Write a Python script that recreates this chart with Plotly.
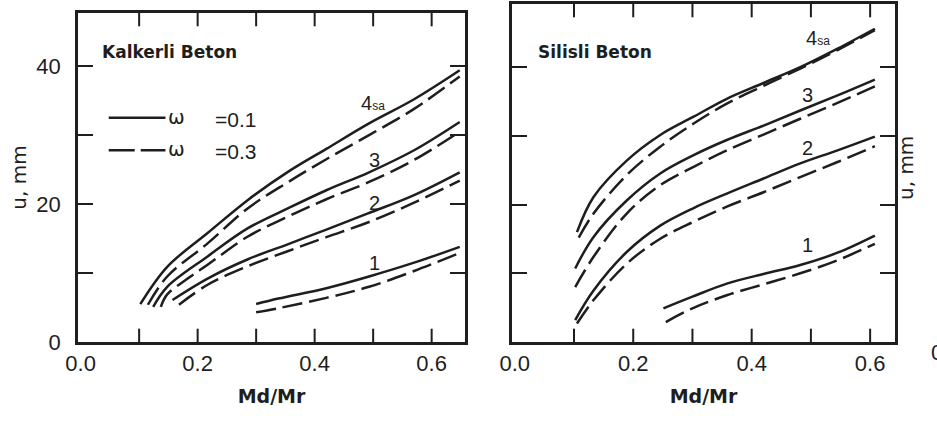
import plotly.graph_objects as go

# ---------------- data ----------------
# Kalkerli Beton (left panel); "sol" = omega 0.1, "das" = omega 0.3
K4_sol_x = [0.102, 0.148, 0.217, 0.286, 0.355, 0.42, 0.493, 0.57, 0.648]
K4_sol_y = [5.5, 10.9, 15.8, 20.6, 24.7, 28.0, 31.7, 35.2, 39.4]
K4_das_x = [0.115, 0.148, 0.217, 0.286, 0.355, 0.42, 0.493, 0.57, 0.648]
K4_das_y = [5.4, 9.5, 14.3, 19.4, 23.2, 26.5, 30.0, 33.8, 38.5]
K3_sol_x = [0.124, 0.148, 0.217, 0.286, 0.355, 0.42, 0.493, 0.57, 0.648]
K3_sol_y = [5.1, 8.0, 12.4, 16.5, 19.4, 22.0, 24.6, 27.8, 31.9]
K3_das_x = [0.137, 0.148, 0.183, 0.217, 0.286, 0.355, 0.42, 0.493, 0.57, 0.648]
K3_das_y = [5.1, 6.9, 9.2, 11.2, 15.3, 18.2, 20.7, 23.2, 26.4, 30.5]
K2_sol_x = [0.157, 0.217, 0.286, 0.355, 0.42, 0.493, 0.57, 0.648]
K2_sol_y = [6.1, 9.2, 12.0, 14.2, 16.3, 18.7, 21.3, 24.6]
K2_das_x = [0.168, 0.217, 0.286, 0.355, 0.42, 0.493, 0.57, 0.648]
K2_das_y = [5.4, 8.3, 11.0, 13.2, 15.2, 17.4, 20.2, 23.4]
K1_sol_x = [0.30, 0.338, 0.42, 0.493, 0.57, 0.648]
K1_sol_y = [5.5, 6.3, 7.8, 9.5, 11.5, 13.8]
K1_das_x = [0.30, 0.338, 0.42, 0.493, 0.57, 0.648]
K1_das_y = [4.3, 4.9, 6.4, 8.0, 10.3, 12.9]

# Silisli Beton (right panel)
S4_sol_x = [0.105, 0.133, 0.189, 0.245, 0.302, 0.358, 0.42, 0.482, 0.545, 0.608]
S4_sol_y = [16.0, 21.1, 26.4, 30.1, 32.8, 35.4, 37.7, 40.0, 42.7, 45.6]
S4_das_x = [0.108, 0.133, 0.189, 0.245, 0.302, 0.358, 0.42, 0.482, 0.545, 0.608]
S4_das_y = [15.2, 18.7, 24.3, 28.4, 31.8, 34.7, 37.3, 39.8, 42.5, 45.4]
S3_sol_x = [0.102, 0.133, 0.189, 0.245, 0.302, 0.358, 0.42, 0.482, 0.545, 0.608]
S3_sol_y = [10.7, 15.3, 20.6, 24.5, 27.2, 29.4, 31.5, 33.7, 35.9, 38.2]
S3_das_x = [0.102, 0.133, 0.189, 0.245, 0.302, 0.358, 0.42, 0.482, 0.545, 0.608]
S3_das_y = [8.0, 12.4, 18.7, 22.8, 25.5, 27.9, 30.2, 32.5, 34.8, 37.2]
S2_sol_x = [0.102, 0.133, 0.189, 0.245, 0.302, 0.358, 0.42, 0.482, 0.545, 0.608]
S2_sol_y = [3.2, 7.5, 13.1, 16.9, 19.5, 21.6, 23.8, 26.0, 27.9, 29.9]
S2_das_x = [0.105, 0.133, 0.189, 0.245, 0.302, 0.358, 0.42, 0.482, 0.545, 0.608]
S2_das_y = [2.7, 6.1, 11.4, 15.0, 17.5, 19.7, 21.8, 24.0, 26.2, 28.5]
S1_sol_x = [0.251, 0.30, 0.358, 0.42, 0.482, 0.545, 0.608]
S1_sol_y = [4.9, 6.6, 8.5, 9.9, 11.2, 13.0, 15.5]
S1_das_x = [0.255, 0.30, 0.358, 0.42, 0.482, 0.545, 0.608]
S1_das_y = [2.9, 4.9, 6.8, 8.4, 10.0, 11.9, 14.3]

# curve labels (text, x, y) per panel
K_labels = [("4<span style='font-size:12px'>sa</span>", 0.50, 34.6), ("3", 0.502, 26.4),
            ("2", 0.502, 20.1), ("1", 0.502, 11.4)]
S_labels = [("4<span style='font-size:12px'>sa</span>", 0.512, 44.2), ("3", 0.495, 35.9),
            ("2", 0.495, 28.2), ("1", 0.494, 14.1)]

x_label_vals = [0.0, 0.2, 0.4, 0.6]
x_label_text = ["0.0", "0.2", "0.4", "0.6"]
x_tick_vals = [0.1, 0.2, 0.3, 0.4, 0.5, 0.6]
y_tick_vals = [0, 10, 20, 30, 40]
y_tick_text = ["0", "", "20", "", "40"]

# ---------------- figure ----------------
INK = "#1e1e1e"
DASH = "20px,7px"
W, H = 937, 425

KX = [-0.0045, 0.657]
SX = [-0.0047, 0.642]
KY = [0, 47.7]
SY = [0, 49.2]

fig = go.Figure()


def add(x, y, dashed, xa, ya):
    fig.add_trace(go.Scatter(
        x=x, y=y, mode="lines", xaxis=xa, yaxis=ya, showlegend=False,
        hoverinfo="skip",
        line=dict(color=INK, width=2.5, shape="spline",
                  dash=DASH if dashed else "solid")))


for xs, ys, d in [(K4_sol_x, K4_sol_y, False), (K4_das_x, K4_das_y, True),
                  (K3_sol_x, K3_sol_y, False), (K3_das_x, K3_das_y, True),
                  (K2_sol_x, K2_sol_y, False), (K2_das_x, K2_das_y, True),
                  (K1_sol_x, K1_sol_y, False), (K1_das_x, K1_das_y, True)]:
    add(xs, ys, d, "x", "y")

for xs, ys, d in [(S4_sol_x, S4_sol_y, False), (S4_das_x, S4_das_y, True),
                  (S3_sol_x, S3_sol_y, False), (S3_das_x, S3_das_y, True),
                  (S2_sol_x, S2_sol_y, False), (S2_das_x, S2_das_y, True),
                  (S1_sol_x, S1_sol_y, False), (S1_das_x, S1_das_y, True)]:
    add(xs, ys, d, "x2", "y2")

# x tick marks on the bottom and top frame edges: vertical-bar markers centred on
# the frame line, clipped to the plot area so only the inward half shows
for xa, ya, yr in [("x", "y", KY), ("x2", "y2", SY)]:
    for yedge in (yr[0], yr[1]):
        fig.add_trace(go.Scatter(
            x=x_tick_vals, y=[yedge] * len(x_tick_vals), mode="markers",
            xaxis=xa, yaxis=ya, showlegend=False, hoverinfo="skip", cliponaxis=True,
            marker=dict(symbol="line-ns", size=19, color=INK,
                        line=dict(width=2, color=INK))))

tickfont = dict(family="Liberation Sans", size=22, color=INK)
titlefont = dict(family="DejaVu Sans", size=19, color=INK)


def xaxis(domain, rng, anchor):
    # frame + labels + title
    return dict(
        domain=domain, range=rng, anchor=anchor, showgrid=False, zeroline=False,
        automargin=False, showline=True, linecolor=INK, linewidth=2.5, mirror=True,
        tickmode="array", tickvals=x_label_vals, ticktext=x_label_text,
        ticks="", tickfont=tickfont,
        title=dict(text="<b>Md/Mr</b>", font=titlefont, standoff=15),
    )


def yaxis(domain, rng, anchor, labels):
    d = dict(
        domain=domain, range=rng, anchor=anchor, showgrid=False, zeroline=False,
        automargin=False, showline=True, linecolor=INK, linewidth=2.5, mirror="ticks",
        tickmode="array", tickvals=y_tick_vals, ticks="inside", ticklen=15,
        tickwidth=2, tickcolor=INK, tickfont=tickfont,
    )
    if labels:
        d.update(ticktext=y_tick_text, ticklabelstandoff=10,
                 title=dict(text="u, mm", font=dict(family="DejaVu Sans", size=20, color=INK),
                            standoff=5))
    else:
        d.update(showticklabels=False)
    return d


fig.update_layout(
    template="none",
    width=W, height=H, margin=dict(l=0, r=0, t=0, b=0),
    paper_bgcolor="white", plot_bgcolor="white", showlegend=False,
    xaxis=xaxis([78 / W, 465 / W], KX, "y"),
    yaxis=yaxis([83 / H, 412 / H], KY, "x", True),
    xaxis2=xaxis([512 / W, 895 / W], SX, "y2"),
    yaxis2=yaxis([83 / H, 421 / H], SY, "x2", False),
)

ann = []
for txt, x, y in K_labels:
    ann.append(dict(x=x, y=y, xref="x", yref="y", text=txt, showarrow=False,
                    font=dict(family="Liberation Sans", size=20, color=INK)))
for txt, x, y in S_labels:
    ann.append(dict(x=x, y=y, xref="x2", yref="y2", text=txt, showarrow=False,
                    font=dict(family="Liberation Sans", size=20, color=INK)))

boldfont = dict(family="DejaVu Sans", size=17, color=INK)
ann.append(dict(x=0.033, y=42.0, xref="x", yref="y", text="<b>Kalkerli Beton</b>",
                xanchor="left", showarrow=False, font=boldfont))
ann.append(dict(x=0.035, y=42.2, xref="x2", yref="y2", text="<b>Silisli Beton</b>",
                xanchor="left", showarrow=False, font=boldfont))

# legend (omega values)
leg_font = dict(family="DejaVu Sans", size=20, color=INK)
for yv, val in [(32.2, "=0.1"), (27.6, "=0.3")]:
    ann.append(dict(x=0.164, y=yv + 0.4, xref="x", yref="y", text="ω", showarrow=False,
                    font=leg_font))
    ann.append(dict(x=0.226, y=yv, xref="x", yref="y", text=val, xanchor="left",
                    showarrow=False, font=dict(family="Liberation Sans", size=21, color=INK)))

# cut-off third panel at the right edge
ann.append(dict(x=920 / W, y=1 - 168 / H, xref="paper", yref="paper", text="u, mm",
                textangle=-90, showarrow=False,
                font=dict(family="DejaVu Sans", size=20, color=INK)))
ann.append(dict(x=929 / W, y=1 - 367 / H, xref="paper", yref="paper", text="0.0",
                xanchor="left", showarrow=False, font=tickfont))

fig.update_layout(annotations=ann)

fig.add_shape(type="line", xref="x", yref="y", x0=0.048, x1=0.145, y0=32.5, y1=32.5,
              line=dict(color=INK, width=2.5))
fig.add_shape(type="line", xref="x", yref="y", x0=0.048, x1=0.145, y0=27.8, y1=27.8,
              line=dict(color=INK, width=2.5, dash="26px,6px"))

fig.write_html("out.html")
